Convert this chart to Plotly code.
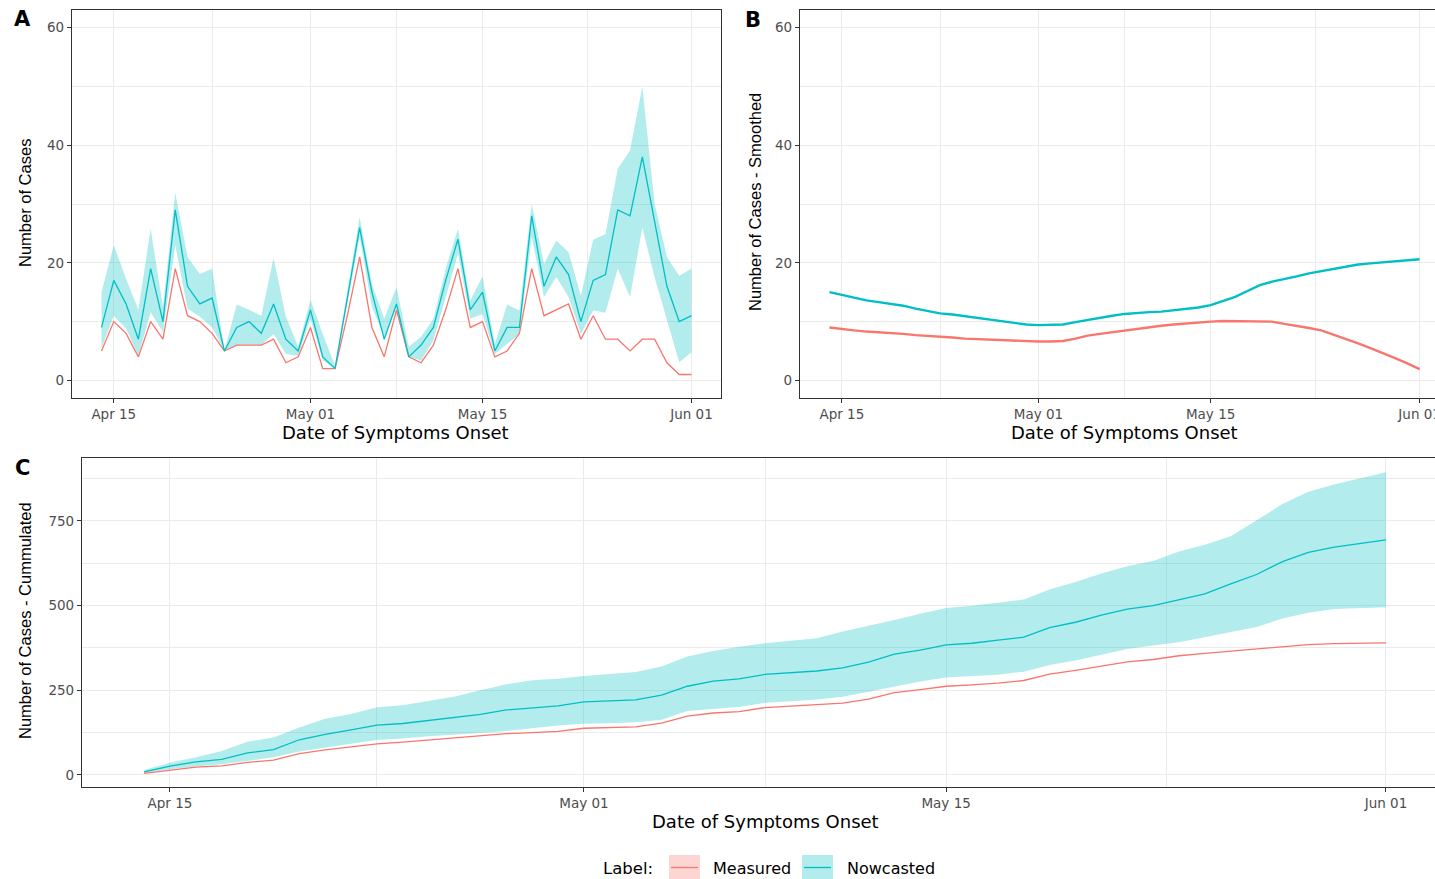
import plotly.graph_objects as go
import pandas as pd

# ---------------- data ----------------
dates = pd.date_range("2020-04-14", "2020-06-01", freq="D")

measured_daily = [5, 10, 8, 4, 10, 7, 19, 11, 10, 8, 5, 6, 6, 6, 7, 3, 4, 9, 2, 2, 11, 21, 9, 4, 12,
                  4, 3, 6, 12, 19, 9, 10, 4, 5, 8, 19, 11, 12, 13, 7, 11, 7, 7, 5, 7, 7, 3, 1, 1]
nowcast_daily = [9, 17, 13, 7, 19, 10, 29, 16, 13, 14, 5, 9, 10, 8, 13, 7, 5, 12, 4, 2, 14, 26, 15, 7, 13,
                 4, 6, 9, 17, 24, 12, 15, 5, 9, 9, 28, 16, 21, 18, 10, 17, 18, 29, 28, 38, 27, 16, 10, 11]
upper_daily = [15, 23, 17.3, 12, 25.8, 12.5, 31.9, 21, 18.1, 19, 5.1, 12.9, 12, 11, 20.8, 10.8, 5.7, 13.7,
               7.9, 2.5, 15.2, 27.8, 16.4, 10.5, 15.9, 5.7, 7.4, 10.5, 19, 25.8, 13.6, 17.7, 6.2, 12.9,
               11.9, 30, 19.8, 23.8, 21.8, 14.4, 23.9, 24.9, 36, 39.1, 50, 30, 21, 17.8, 19]
lower_daily = [5.4, 11, 8.8, 4.2, 11.6, 8.2, 23, 12.2, 10.8, 9, 5.1, 6, 6.1, 6, 7.9, 4.5, 4.2, 10.5, 3.4,
               2, 13, 24.4, 12.5, 7.4, 12.5, 4, 3.4, 6.8, 14, 21.5, 10.5, 11.3, 4.5, 6.2, 7.9, 24.4, 14.2,
               17.6, 14.2, 7.9, 11.9, 11.5, 19, 14.2, 26, 17.5, 10.2, 3.1, 4.8]

smooth_measured = [9.0, 8.7, 8.5, 8.3, 8.2, 8.0, 7.9, 7.7, 7.6, 7.4, 7.3, 7.1, 7.0, 6.9, 6.8, 6.7, 6.6,
                   6.6, 6.6, 6.7, 7.1, 7.6, 7.9, 8.2, 8.5, 8.8, 9.1, 9.3, 9.5, 9.7, 9.9, 10.0, 10.1, 10.1,
                   10.1, 10.1, 10.0, 9.6, 9.3, 8.9, 8.5, 7.8, 7.0, 6.3, 5.5, 4.7, 3.8, 2.9, 1.9]
smooth_nowcast = [15.0, 14.5, 14.1, 13.6, 13.3, 13.0, 12.7, 12.2, 11.8, 11.4, 11.2, 10.9, 10.7, 10.3, 10.0,
                  9.7, 9.5, 9.4, 9.4, 9.5, 9.9, 10.3, 10.6, 11.0, 11.3, 11.5, 11.6, 11.7, 11.9, 12.1, 12.4,
                  12.8, 13.5, 14.2, 15.2, 16.2, 16.8, 17.2, 17.7, 18.2, 18.6, 19.0, 19.4, 19.7, 19.9, 20.1,
                  20.3, 20.5, 20.6]

cum_measured = [5, 15, 23, 27, 37, 44, 63, 74, 84, 92, 97, 103, 109, 115, 122, 125, 129, 138, 140, 142,
                153, 174, 183, 187, 199, 203, 206, 212, 224, 243, 252, 262, 266, 271, 279, 298, 309, 321,
                334, 341, 352, 359, 366, 371, 378, 385, 388, 389, 390]
cum_nowcast = [9, 26, 39, 46, 65, 75, 104, 120, 133, 147, 152, 161, 171, 179, 192, 199, 204, 216, 220,
               222, 236, 262, 277, 284, 297, 301, 307, 316, 333, 357, 369, 384, 389, 398, 407, 435, 451,
               472, 490, 500, 517, 535, 564, 592, 630, 657, 673, 683, 694]
cum_upper = [15, 36, 52, 71, 98, 111, 140, 166, 180, 200, 206, 218, 232, 250, 268, 280, 284, 292, 298,
             304, 320, 350, 366, 379, 389, 396, 404, 424, 440, 458, 476, 493, 500, 508, 518, 548, 570,
             595, 616, 632, 660, 680, 705, 752, 800, 836, 858, 876, 894]
cum_lower = [6, 17, 25, 32, 42, 52, 69, 81, 92, 103, 108, 114, 120, 124, 130, 137, 146, 151, 153, 156,
             163, 189, 195, 201, 213, 218, 223, 231, 246, 260, 276, 288, 292, 296, 305, 325, 338, 355,
             372, 382, 392, 405, 422, 437, 462, 479, 490, 493, 495]

tick_dates = ["2020-04-15", "2020-05-01", "2020-05-15", "2020-06-01"]
tick_labels = ["Apr 15", "May 01", "May 15", "Jun 01"]
minor_dates = ["2020-04-23", "2020-05-08", "2020-05-23 12:00"]

# ---------------- styling ----------------
W, H = 1435, 879
RED = "#F8766D"
TEAL = "#00BFC4"
BAND = "rgba(0,191,196,0.3)"
GRID = "#EBEBEB"
BORDER = "#333333"
TXT = "DejaVu Sans"


def px(x):
    return x / W


def py(y):
    return 1 - y / H


fig = go.Figure()
xs = list(dates)


def band(lo, hi, xa, ya):
    fig.add_trace(go.Scatter(x=xs + xs[::-1], y=list(hi) + list(lo)[::-1], fill="toself",
                             fillcolor=BAND, line=dict(width=0), mode="lines", hoverinfo="skip",
                             showlegend=False, xaxis=xa, yaxis=ya))


def line(y, color, width, xa, ya):
    fig.add_trace(go.Scatter(x=xs, y=y, mode="lines", line=dict(color=color, width=width),
                             showlegend=False, xaxis=xa, yaxis=ya))


# Panel A
band(lower_daily, upper_daily, "x", "y")
line(measured_daily, RED, 1.3, "x", "y")
line(nowcast_daily, TEAL, 1.3, "x", "y")
# Panel B
line(smooth_measured, RED, 2.4, "x2", "y2")
line(smooth_nowcast, TEAL, 2.4, "x2", "y2")
# Panel C
band(cum_lower, cum_upper, "x3", "y3")
line(cum_measured, RED, 1.3, "x3", "y3")
line(cum_nowcast, TEAL, 1.3, "x3", "y3")


def xaxis(domain, rng, anchor):
    return dict(domain=domain, range=rng, anchor=anchor, type="date",
                tickmode="array", tickvals=tick_dates, ticktext=tick_labels,
                ticks="outside", ticklen=4, tickwidth=1.1, tickcolor=BORDER,
                showline=True, linecolor=BORDER, linewidth=1.2, mirror=True,
                showgrid=True, gridcolor=GRID, gridwidth=1.1,
                minor=dict(tickmode="array", tickvals=minor_dates, showgrid=True,
                           gridcolor=GRID, gridwidth=0.6, ticks=""),
                tickfont=dict(family=TXT, size=13.5, color="#4D4D4D"),
                ticklabeloverflow="allow",
                zeroline=False, automargin=False, fixedrange=True)


def yaxis(domain, rng, anchor, vals, minor_vals, mirror):
    return dict(domain=domain, range=rng, anchor=anchor,
                tickmode="array", tickvals=vals, ticktext=[str(v) for v in vals],
                ticks="outside", ticklen=4, tickwidth=1.1, tickcolor=BORDER,
                showline=True, linecolor=BORDER, linewidth=1.2, mirror=mirror,
                showgrid=True, gridcolor=GRID, gridwidth=1.1,
                minor=dict(tickmode="array", tickvals=minor_vals, showgrid=True,
                           gridcolor=GRID, gridwidth=0.6, ticks=""),
                tickfont=dict(family=TXT, size=13.5, color="#4D4D4D"),
                zeroline=False, automargin=False, fixedrange=True)


top_dom = [py(398), py(10)]
bot_dom = [py(787), py(458)]
x_start = "2020-04-11 14:24"

layout = dict(
    width=W, height=H, template="none",
    margin=dict(l=0, r=0, t=0, b=0, pad=0),
    paper_bgcolor="white", plot_bgcolor="white",
    showlegend=False,
    xaxis=xaxis([px(72), px(721)], [x_start, "2020-06-03 09:36"], "y"),
    yaxis=yaxis(top_dom, [-3, 63], "x", [0, 20, 40, 60], [10, 30, 50], True),
    xaxis2=xaxis([px(800), 1.0], [x_start, "2020-06-02 06:00"], "y2"),
    yaxis2=yaxis(top_dom, [-3, 63], "x2", [0, 20, 40, 60], [10, 30, 50], False),
    xaxis3=xaxis([px(82), 1.0], [x_start, "2020-06-02 21:30"], "y3"),
    yaxis3=yaxis(bot_dom, [-35.5, 936], "x3", [0, 250, 500, 750], [125, 375, 625, 875], False),
)
fig.update_layout(**layout)

ann = []


def text(t, x, y, size, family=TXT, angle=0, color="black", xanchor="center"):
    ann.append(dict(text=t, x=px(x), y=py(y), xref="paper", yref="paper", showarrow=False,
                    xanchor=xanchor, yanchor="middle", textangle=angle,
                    font=dict(family=family, size=size, color=color)))


# panel tags
text("<b>A</b>", 22.5, 19.5, 21)
text("<b>B</b>", 752.5, 20, 21)
text("<b>C</b>", 22, 468, 21)
# axis titles
text("Date of Symptoms Onset", 396, 432, 18)
text("Date of Symptoms Onset", 1124, 432, 18)
text("Date of Symptoms Onset", 765.5, 821, 18)
text("Number of Cases", 25, 203, 16.5, family="Liberation Sans", angle=-90)
text("Number of Cases - Smoothed", 755, 202, 16.5, family="Liberation Sans", angle=-90)
text("Number of Cases - Cummulated", 25, 621, 16.5, family="Liberation Sans", angle=-90)
# legend
text("Label:", 627.5, 868, 16.5)
text("Measured", 711, 868, 16, xanchor="left")
text("Nowcasted", 845, 868, 16, xanchor="left")

shapes = [
    dict(type="rect", xref="paper", yref="paper", x0=px(669), x1=px(700), y0=py(881), y1=py(855),
         fillcolor="#FDD6D3", line=dict(width=0), layer="above"),
    dict(type="line", xref="paper", yref="paper", x0=px(671), x1=px(698), y0=py(867.5), y1=py(867.5),
         line=dict(color=RED, width=1.3), layer="above"),
    dict(type="rect", xref="paper", yref="paper", x0=px(802), x1=px(833), y0=py(881), y1=py(855),
         fillcolor="#B3ECED", line=dict(width=0), layer="above"),
    dict(type="line", xref="paper", yref="paper", x0=px(804), x1=px(831), y0=py(867.5), y1=py(867.5),
         line=dict(color=TEAL, width=1.3), layer="above"),
]
fig.update_layout(annotations=ann, shapes=shapes)

fig.write_html("out.html", config={"displayModeBar": False},
               post_script="document.body.style.margin='0';document.body.style.overflow='hidden';")
